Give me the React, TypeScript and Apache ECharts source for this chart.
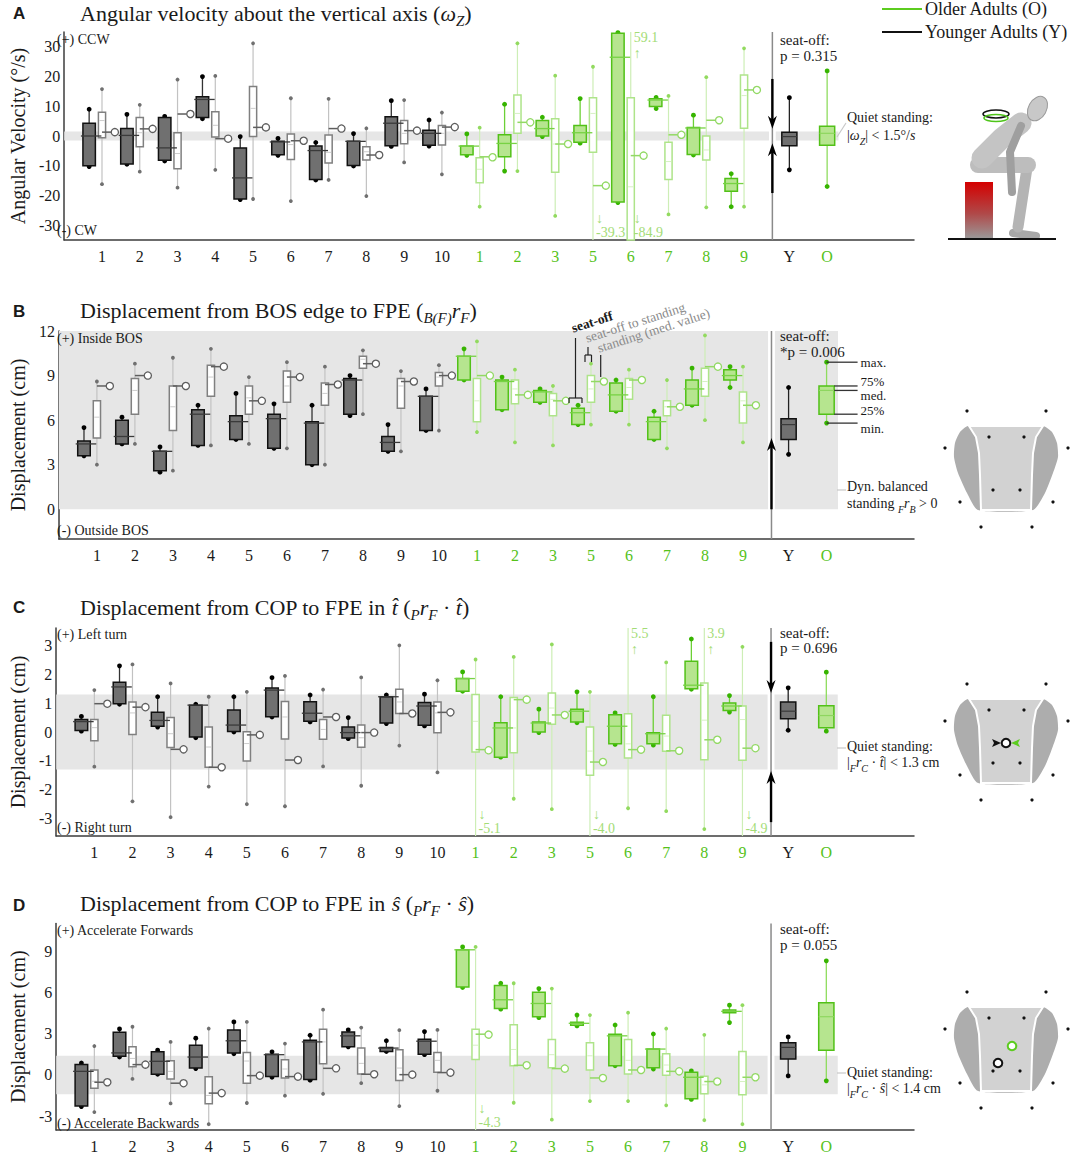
import React, { useEffect, useRef } from 'react';
import * as echarts from 'echarts';

const SERIF = '"Liberation Serif", "DejaVu Serif", serif';
const SANS = '"Liberation Sans", Arial, sans-serif';

// ---------- categories ----------
const youngLabels = ['1', '2', '3', '4', '5', '6', '7', '8', '9', '10'];
const olderLabels = ['1', '2', '3', '5', '6', '7', '8', '9'];
const groupLabels = ['Y', 'O'];

// ---------- A: angular velocity (deg/s)  [min, q1, median, q3, max] ----------
const angSeatOff = [
  [-10.3, -10.0, 0.0, 4.3, 9.0], [-9.5, -9.4, 0.2, 2.5, 7.3], [-8.4, -8.2, -4.0, 6.2, 6.6],
  [5.8, 6.2, 12.3, 13.2, 20.0], [-21.4, -21.2, -14.1, -4.0, -0.2], [-6.5, -6.3, -2.0, -1.8, -0.8],
  [-14.8, -14.6, -4.9, -3.4, -2.2], [-10.1, -9.9, -1.8, -1.8, 0.8], [-3.5, -3.3, 4.3, 6.5, 11.9],
  [-3.4, -3.1, 0.9, 1.9, 5.4],
  [-6.5, -6.3, -3.4, -3.4, 0.7], [-11.8, -7.0, -2.5, 0.4, 10.7], [-0.2, 0.0, 2.5, 5.2, 6.3],
  [-2.4, -2.1, 1.1, 3.5, 12.6], [-22.4, -22.2, 26.5, 34.6, 34.8], [9.7, 9.9, 12.1, 12.5, 13.5],
  [-6.4, -6.2, 2.7, 2.9, 7.0], [-23.8, -18.6, -16.0, -14.3, -12.7],
];
const angTransition = [
  [-16.2, -0.6, 5.2, 8.0, 15.8], [-12.0, -3.6, 1.1, 6.2, 10.5], [-17.4, -11.0, -5.9, 1.1, 19.0],
  [-11.4, -0.3, 3.6, 8.2, 20.2], [-21.2, -0.2, 9.3, 16.7, 31.2], [-21.9, -7.9, -2.9, 0.7, 12.7],
  [-14.8, -9.1, -5.5, 0.3, 12.5], [-20.2, -8.1, -5.3, -3.6, 2.6], [-8.9, -2.6, 0.9, 5.2, 12.1],
  [-12.9, -3.0, 0.9, 3.5, 7.9],
  [-23.8, -15.7, -11.2, -7.3, 2.8], [-11.8, 0.9, 7.6, 13.8, 31.2], [-26.9, -12.2, -2.7, 5.8, 20.3],
  [-39.3, -5.5, 7.6, 12.9, 23.3], [-84.9, -45.0, -17.1, 12.9, 59.1], [-26.4, -14.6, -8.6, -2.1, 13.5],
  [-24.0, -8.1, -4.7, 0.0, 19.8], [-23.8, 2.6, 13.6, 20.5, 29.5],
];
const angStanding = [1.3, 2.4, 7.4, -0.9, 2.9, -1.6, 2.5, -6.4, 1.8, 3.0, -7.0, 4.6, -2.7, -16.7, -6.6, 0.4, 5.3, 15.5];
const angGroups = [[-11.4, -3.3, -0.2, 1.3, 12.9], [-17.0, -3.1, 0.9, 3.3, 21.9]];

// ---------- B: BOS edge to FPE (cm) ----------
const bosSeatOff = [
  [3.6, 3.6, 4.4, 4.6, 5.5], [4.4, 4.4, 4.9, 6.0, 6.2], [2.5, 2.6, 3.9, 3.9, 4.2],
  [4.3, 4.3, 6.4, 6.7, 7.0], [4.7, 4.7, 5.9, 6.3, 7.8], [4.1, 4.1, 6.1, 6.4, 7.1],
  [3.0, 3.0, 5.8, 5.9, 7.0], [6.3, 6.4, 8.7, 8.8, 9.0], [3.9, 3.9, 4.5, 4.9, 5.7],
  [5.3, 5.3, 7.6, 7.6, 8.1],
  [8.7, 8.7, 10.3, 10.3, 10.8], [6.7, 6.7, 8.6, 8.7, 8.9], [7.2, 7.2, 7.9, 8.0, 8.1],
  [5.7, 5.7, 6.5, 6.8, 7.0], [6.6, 6.6, 7.7, 8.5, 8.7], [4.7, 4.7, 5.9, 6.2, 6.6],
  [7.0, 7.0, 8.1, 8.7, 9.5], [8.2, 8.7, 9.0, 9.4, 9.6],
];
const bosTransition = [
  [3.0, 4.8, 6.2, 7.3, 8.6], [4.4, 6.4, 8.0, 8.8, 9.8], [2.6, 5.3, 6.9, 8.3, 10.2],
  [4.3, 7.6, 8.9, 9.7, 10.8], [4.4, 6.4, 7.5, 8.3, 8.9], [4.1, 7.2, 8.3, 9.3, 9.9],
  [3.0, 7.0, 7.8, 8.5, 9.6], [6.4, 9.5, 10.1, 10.3, 10.7], [3.9, 6.8, 8.3, 8.8, 9.3],
  [5.3, 8.3, 8.9, 9.2, 9.7],
  [5.2, 5.9, 7.3, 8.8, 11.3], [4.5, 7.1, 8.1, 8.7, 9.4], [4.3, 6.3, 7.4, 7.8, 8.3],
  [5.7, 7.2, 8.1, 9.0, 9.8], [5.7, 7.4, 8.2, 8.8, 9.4], [4.1, 6.3, 6.9, 7.3, 8.7],
  [6.0, 7.6, 8.6, 9.5, 11.7], [4.5, 5.8, 7.3, 7.9, 9.6],
];
const bosStanding = [8.3, 9.0, 8.3, 9.6, 7.3, 8.9, 8.4, 9.8, 8.6, 9.0, 9.0, 7.7, 7.3, 8.6, 8.7, 6.9, 9.6, 7.0];
const bosGroups = [[3.7, 4.7, 5.7, 6.1, 8.2], [5.8, 6.4, 8.0, 8.3, 9.9]];

// ---------- C: COP to FPE in t (cm) ----------
const copTSeatOff = [
  [0.03, 0.05, 0.36, 0.43, 0.54], [0.96, 0.98, 1.56, 1.72, 2.29], [0.17, 0.2, 0.4, 0.68, 1.22],
  [-0.2, -0.17, 0.93, 0.93, 0.96], [0.0, 0.02, 0.24, 0.76, 1.22], [0.52, 0.53, 1.45, 1.52, 1.88],
  [0.35, 0.37, 0.65, 1.05, 1.28], [-0.23, -0.21, -0.02, 0.17, 0.5], [0.29, 0.31, 1.22, 1.22, 1.28],
  [0.21, 0.23, 0.9, 1.02, 1.31],
  [1.41, 1.41, 1.85, 1.85, 2.08], [-0.87, -0.87, 0.14, 0.32, 1.22], [-0.02, 0.0, 0.31, 0.35, 0.79],
  [0.32, 0.35, 0.72, 0.79, 1.39], [-0.43, -0.41, 0.2, 0.6, 0.66], [-0.43, -0.41, -0.06, -0.03, 1.24],
  [1.48, 1.5, 1.62, 2.45, 3.22], [0.69, 0.74, 0.9, 1.0, 1.26],
];
const copTTransition = [
  [-1.2, -0.3, 0.15, 0.43, 1.45], [-2.4, -0.09, 0.66, 1.04, 2.34], [-2.95, -0.54, -0.06, 0.5, 1.68],
  [-1.89, -1.22, -0.52, 0.17, 1.22], [-2.5, -1.0, -0.4, 0.01, 1.39], [-2.57, -0.24, 0.52, 1.06, 1.94],
  [-1.19, -0.25, 0.09, 0.43, 1.47], [-1.86, -0.53, -0.2, 0.24, 1.89], [-0.47, 0.64, 1.04, 1.48, 3.0],
  [-1.4, -0.03, 0.66, 1.04, 1.79],
  [-5.1, -0.69, 0.37, 1.3, 2.51], [-2.31, -0.72, 0.14, 1.19, 2.6], [-2.67, 0.27, 0.83, 1.35, 3.03],
  [-4.0, -1.5, -0.66, 0.17, 1.39], [-2.64, -0.9, -0.41, 0.63, 5.5], [-2.74, -0.67, -0.14, 0.58, 2.41],
  [-3.36, -0.96, 0.41, 1.7, 3.9], [-4.9, -0.98, 0.43, 0.9, 2.95],
];
const copTStanding = [0.98, 0.86, -0.6, -1.22, -0.1, -0.97, 0.52, -0.02, 0.64, 0.68, -0.61, 1.12, 0.59, -1.04, -0.61, -0.65, -0.27, -0.56];
const copTGroups = [[0.06, 0.46, 0.72, 1.04, 1.53], [0.03, 0.15, 0.57, 0.91, 2.07]];

// ---------- D: COP to FPE in s (cm) ----------
const copSSeatOff = [
  [-2.3, -2.26, 0.26, 0.75, 0.87], [1.3, 1.35, 1.6, 3.1, 3.34], [0.05, 0.05, 0.99, 1.68, 1.8],
  [0.46, 0.5, 1.3, 2.16, 2.67], [1.54, 1.59, 2.48, 3.27, 3.85], [-0.17, -0.12, 1.47, 1.51, 1.68],
  [-0.38, -0.34, 2.4, 2.52, 2.88], [2.04, 2.04, 2.84, 3.12, 3.27], [1.7, 1.7, 1.95, 2.0, 2.48],
  [1.47, 1.51, 2.45, 2.6, 3.15],
  [6.35, 6.39, 9.09, 9.09, 9.3], [4.78, 4.83, 5.46, 6.49, 6.66], [4.16, 4.23, 5.19, 6.0, 6.27],
  [3.56, 3.6, 3.75, 3.82, 4.35], [0.67, 0.67, 2.84, 2.96, 3.63], [0.48, 0.53, 1.88, 1.88, 3.03],
  [-1.78, -1.73, -0.17, 0.19, 0.29], [3.8, 4.52, 4.62, 4.71, 5.07],
];
const copSTransition = [
  [-2.7, -0.96, -0.46, 0.36, 2.1], [-0.29, 0.6, 1.2, 2.04, 3.5], [-2.07, -0.29, 0.26, 1.03, 2.4],
  [-3.58, -2.1, -1.49, -0.14, 3.37], [-2.04, -0.6, 1.01, 1.63, 3.85], [-1.51, -0.22, 0.43, 1.1, 2.28],
  [-1.37, 0.82, 2.4, 3.32, 4.74], [-0.6, 0.07, 0.84, 1.95, 3.44], [-2.26, -0.41, 0.5, 1.83, 3.25],
  [-1.15, 0.19, 1.06, 1.63, 3.27],
  [-4.3, 1.13, 2.16, 3.32, 9.3], [-2.02, 0.67, 1.85, 3.65, 6.66], [-3.25, 0.53, 1.47, 2.57, 6.27],
  [-1.9, 0.36, 1.39, 2.33, 4.35], [-1.9, 0.07, 1.06, 2.57, 4.52], [-2.21, -0.02, 0.72, 1.54, 3.37],
  [-3.29, -1.37, -0.72, -0.1, 2.91], [-3.58, -1.44, -0.48, 1.71, 5.07],
];
const copSStanding = [-0.53, 0.75, -0.6, -1.32, -0.05, -0.12, 0.48, 0.05, 0.02, 0.17, 2.96, 0.7, 0.46, -0.22, 0.36, 0.26, -0.48, -0.17];
const copSGroups = [[-0.07, 1.15, 2.0, 2.33, 2.76], [-0.43, 1.8, 4.23, 5.24, 8.29]];

// ---------- layout / style ----------
const GROUP_POS = [19.2, 20.2];
const SEP = 18.75;
const BAND_END = 20.5;
const YOUNG_C = {
  fill: '#707070', fillStroke: '#111111', fillWhisker: '#333333', fillDot: '#000000', fillMedian: '#3a3a3a',
  openStroke: '#808080', openWhisker: '#c2c2c2', openDot: '#707070', openMedian: '#cccccc', standLine: '#5e5e5e',
};
const OLD_C = {
  fill: '#b6e58f', fillStroke: '#52c118', fillWhisker: '#6cd036', fillDot: '#37b400', fillMedian: '#77d244',
  openStroke: '#aee48a', openWhisker: '#cdeeb6', openDot: '#92da5f', openMedian: '#d6f1c3', standLine: '#92d964',
};
const OFF_COLOR = '#a3dc76';
const GREEN_TXT = '#55c21a';

const panels = [
  { seatOff: angSeatOff, trans: angTransition, stand: angStanding, groups: angGroups,
    yMin: -35, yMax: 35, interval: 5, top: 32, band: [-1.5, 1.5], yName: 'Angular Velocity (°/s)',
    arrows: [[19.2, 2.4], [-19.2, -2.4]], annotate: false,
    fmt: (v: number) => (Math.abs(v % 10) < 1e-9 ? String(Math.round(v)) : '') },
  { seatOff: bosSeatOff, trans: bosTransition, stand: bosStanding, groups: bosGroups,
    yMin: -2, yMax: 12, interval: 1, top: 331, band: [0, 12], yName: 'Displacement (cm)',
    arrows: [[0, 4.8]], annotate: true,
    fmt: (v: number) => (v >= 0 && Math.abs(v % 3) < 1e-9 ? String(Math.round(v)) : '') },
  { seatOff: copTSeatOff, trans: copTTransition, stand: copTStanding, groups: copTGroups,
    yMin: -3.6, yMax: 3.6, interval: 0.2, top: 628, band: [-1.3, 1.3], yName: 'Displacement (cm)',
    arrows: [[3.12, 1.35], [-3.12, -1.35]], annotate: false,
    fmt: (v: number) => (Math.abs(v - Math.round(v)) < 1e-6 ? String(Math.round(v) + 0) : '') },
  { seatOff: copSSeatOff, trans: copSTransition, stand: copSStanding, groups: copSGroups,
    yMin: -4, yMax: 11, interval: 1, top: 923.5, band: [-1.4, 1.4], yName: 'Displacement (cm)',
    arrows: [], annotate: false,
    fmt: (v: number) => (Math.abs(v % 3) < 1e-9 ? String(Math.round(v) + 0) : '') },
];

function xLabel(v: number) {
  const k = Math.round(v * 10);
  if (k % 10 === 0 && k >= 10 && k <= 180) {
    const i = k / 10 - 1;
    return i < 10 ? `{y|${youngLabels[i]}}` : `{o|${olderLabels[i - 10]}}`;
  }
  if (k === Math.round(GROUP_POS[0] * 10)) return `{y|${groupLabels[0]}}`;
  if (k === Math.round(GROUP_POS[1] * 10)) return `{o|${groupLabels[1]}}`;
  return '';
}

const ln = (a: number[], b: number[], stroke: string, lw: number) =>
  ({ type: 'line', shape: { x1: a[0], y1: a[1], x2: b[0], y2: b[1] }, style: { stroke, lineWidth: lw } });
const dt = (p: number[], r: number, fill: string) => ({ type: 'circle', shape: { cx: p[0], cy: p[1], r }, style: { fill } });
const bx = (cx: number, yTop: number, yBot: number, w: number, fill: string, stroke: string, lw: number) =>
  ({ type: 'rect', shape: { x: cx - w / 2, y: yTop, width: w, height: Math.max(0.8, yBot - yTop) }, style: { fill, stroke, lineWidth: lw } });

function bandRenderer(p: any) {
  return (params: any, api: any) => {
    const ch: any[] = [];
    const rect = (x0: number, x1: number) => {
      const a = api.coord([x0, p.band[1]]);
      const b = api.coord([x1, p.band[0]]);
      return { type: 'rect', shape: { x: a[0], y: a[1], width: b[0] - a[0], height: b[1] - a[1] }, style: { fill: '#e6e6e6' } };
    };
    ch.push(rect(0, SEP - 0.09), rect(SEP + 0.09, BAND_END));
    ch.push(ln(api.coord([SEP, p.yMin]), api.coord([SEP, p.yMax]), '#8a8a8a', 1.5));
    p.arrows.forEach(([from, to]: number[]) => {
      const a = api.coord([SEP, from]);
      const b = api.coord([SEP, to]);
      const d = b[1] > a[1] ? 1 : -1;
      ch.push(ln(a, [b[0], b[1] - d * 7], '#000', 2.4));
      ch.push({ type: 'polygon', shape: { points: [[b[0], b[1]], [b[0] - 4.5, b[1] - d * 13], [b[0], b[1] - d * 9], [b[0] + 4.5, b[1] - d * 13]] }, style: { fill: '#000' } });
    });
    return { type: 'group', children: ch };
  };
}

function participantRenderer(yMin: number, yMax: number) {
  return (params: any, api: any) => {
    const x = api.value(0);
    const so = [1, 2, 3, 4, 5].map((k) => api.value(k));
    const tr = [6, 7, 8, 9, 10].map((k) => api.value(k));
    const st = api.value(11);
    const c = api.value(12) === 1 ? OLD_C : YOUNG_C;
    const cl = (v: number) => Math.min(yMax, Math.max(yMin, v));
    const P = (xx: number, v: number) => api.coord([xx, cl(v)]);
    const u = api.size([1, 0])[0];
    const xf = x - 0.34, xc = x + 0.34;
    const wf = 0.33 * u, wo = 0.19 * u;
    const ch: any[] = [];
    const t = tr.map((v) => P(x, v));
    ch.push(ln(t[0], t[4], c.openWhisker, 1.2));
    if (tr[0] >= yMin) ch.push(dt(t[0], 1.9, c.openDot));
    if (tr[4] <= yMax) ch.push(dt(t[4], 1.9, c.openDot));
    ch.push(bx(t[1][0], t[3][1], t[1][1], wo, '#ffffff', c.openStroke, 1.5));
    if (tr[2] > yMin && tr[2] < yMax) ch.push(ln([t[2][0] - wo / 2 + 1, t[2][1]], [t[2][0] + wo / 2 - 1, t[2][1]], c.openMedian, 1));
    const s0 = P(x, st), s1 = P(xc, st);
    ch.push(ln(s0, [s1[0] - 3.6, s1[1]], c.standLine, 1.5));
    ch.push({ type: 'circle', shape: { cx: s1[0], cy: s1[1], r: 3.6 }, style: { fill: '#ffffff', stroke: c.standLine, lineWidth: 1.3 } });
    const f = so.map((v) => P(xf, v));
    ch.push(ln(f[3], f[4], c.fillWhisker, 1.3));
    ch.push(ln(f[1], f[0], c.fillWhisker, 1.3));
    if (so[4] <= yMax) ch.push(dt(f[4], 2.4, c.fillDot));
    if (so[0] >= yMin) ch.push(dt(f[0], 2.4, c.fillDot));
    ch.push(bx(f[1][0], f[3][1], f[1][1], wf, c.fill, c.fillStroke, 1.5));
    ch.push(ln([f[2][0] - wf / 2 - 2, f[2][1]], [f[2][0] + wf / 2 + 6, f[2][1]], c.fillMedian, 1.3));
    const tx = (text: string, px: number, py: number) =>
      ({ type: 'text', style: { text, x: px, y: py, fill: OFF_COLOR, fontSize: 14, fontFamily: SERIF, align: 'left', verticalAlign: 'middle' } });
    if (tr[4] > yMax) {
      const top = api.coord([x, yMax]);
      ch.push(tx(tr[4].toFixed(1), top[0] + 3, top[1] + 5), tx('↑', top[0] + 3, top[1] + 21));
    }
    if (tr[0] < yMin) {
      const bot = api.coord([x, yMin]);
      ch.push(tx('↓', bot[0] + 3, bot[1] - 22), tx(tr[0].toFixed(1), bot[0] + 3, bot[1] - 8));
    }
    return { type: 'group', children: ch };
  };
}

function groupRenderer(annotate: boolean) {
  return (params: any, api: any) => {
    const x = api.value(0);
    const v = [1, 2, 3, 4, 5].map((k) => api.value(k));
    const old = api.value(6) === 1;
    const u = api.size([1, 0])[0];
    const w = 0.4 * u;
    const p = v.map((val) => api.coord([x, val]));
    const ch: any[] = [];
    ch.push(ln(p[0], p[4], old ? '#8fdc5e' : '#222222', 1.3));
    ch.push(dt(p[0], 2.4, old ? '#37b400' : '#000'), dt(p[4], 2.4, old ? '#37b400' : '#000'));
    ch.push(bx(p[1][0], p[3][1], p[1][1], w, old ? OLD_C.fill : YOUNG_C.fill, old ? OLD_C.fillStroke : '#111', 1.5));
    ch.push(ln([p[2][0] - w / 2, p[2][1]], [p[2][0] + w / 2, p[2][1]], old ? '#8ed65f' : '#3a3a3a', 1.2));
    if (annotate && old) {
      const right = p[0][0] + w / 2;
      const end = p[0][0] + 31;
      const lab = (text: string, yy: number, va: string) =>
        ({ type: 'text', style: { text, x: end + 3, y: yy, fill: '#1a1a1a', fontSize: 13, fontFamily: SERIF, align: 'left', verticalAlign: va } });
      ch.push(ln([p[4][0], p[4][1]], [end, p[4][1]], '#333', 1.3), lab('max.', p[4][1], 'middle'));
      ch.push(ln([right, p[3][1]], [end, p[3][1]], '#333', 1.3), lab('75%', p[3][1] + 2, 'bottom'));
      ch.push(ln([right, p[2][1]], [end, p[2][1]], '#333', 1.3), lab('med.', p[2][1] - 1, 'top'));
      ch.push(ln([right, p[1][1]], [end, p[1][1]], '#333', 1.3), lab('25%', p[1][1] + 3, 'bottom'));
      ch.push(ln([p[0][0], p[0][1]], [end, p[0][1]], '#333', 1.3), lab('min.', p[0][1] - 1, 'top'));
    }
    return { type: 'group', children: ch };
  };
}

// ---------- graphic helpers ----------
const rich = (size: number) => ({
  t: { fontSize: size, fontFamily: SERIF, fill: '#1a1a1a', lineHeight: size + 8 },
  i: { fontSize: size, fontFamily: SERIF, fontStyle: 'italic', fill: '#1a1a1a', lineHeight: size + 8 },
  s: { fontSize: Math.round(size * 0.68), fontFamily: SERIF, fontStyle: 'italic', fill: '#1a1a1a', verticalAlign: 'bottom', lineHeight: Math.round(size * 0.72) },
});
const T = (x: number, y: number, text: string, o: any = {}) => ({
  type: 'text', x, y, rotation: o.rot || 0, z: 50,
  style: {
    text, fontSize: o.size || 14, fontFamily: o.family || SERIF, fill: o.fill || '#1a1a1a',
    fontWeight: o.weight || 'normal', align: o.align || 'left', verticalAlign: o.va || 'middle',
    rich: o.rich,
  },
});
const GL = (x1: number, y1: number, x2: number, y2: number, stroke: string, lw: number) =>
  ({ type: 'line', z: 50, shape: { x1, y1, x2, y2 }, style: { stroke, lineWidth: lw } });
const GC = (cx: number, cy: number, r: number, fill: string, stroke?: string, lw?: number) =>
  ({ type: 'circle', z: 50, shape: { cx, cy, r }, style: { fill, stroke, lineWidth: lw || 0 } });

function footDiagram(dy: number) {
  const sh = (pts: number[][]) => pts.map(([x, y]) => [x, y + dy]);
  const els: any[] = [];
  els.push({ type: 'polygon', z: 50, shape: { points: sh([[968, 426], [960, 432], [955, 443], [954, 457], [958, 473], [967, 493], [978, 510], [1033, 510], [1045, 493], [1053, 473], [1058, 457], [1057, 443], [1052, 432], [1043, 426]]), smooth: 0.2 }, style: { fill: '#adadad' } });
  els.push({ type: 'polygon', z: 51, shape: { points: sh([[969, 426], [976, 437], [979, 453], [980, 475], [981, 510], [1031, 510], [1032, 475], [1033, 453], [1036, 437], [1043, 426]]) }, style: { fill: '#d2d2d2', stroke: '#ffffff', lineWidth: 2 } });
  const dots = [[967, 411], [1046, 411], [945, 448], [1068, 448], [960, 502], [1053, 502], [981, 527], [1032, 527], [989, 437], [1024, 437], [993, 490], [1020, 490]];
  sh(dots).forEach(([x, y]) => els.push({ ...GC(x, y, 1.6, '#111'), z: 52 }));
  return els;
}

function mannequin() {
  const limb = (pts: number[][], lw: number, col: string) =>
    ({ type: 'polyline', z: 50, shape: { points: pts }, style: { stroke: col, lineWidth: lw, lineCap: 'round', lineJoin: 'round', fill: null } });
  return [
    { type: 'rect', z: 50, shape: { x: 965, y: 182, width: 28, height: 57 }, style: { fill: { type: 'linear', x: 0, y: 0, x2: 0, y2: 1, colorStops: [{ offset: 0, color: '#d40000' }, { offset: 0.55, color: '#b04848' }, { offset: 1, color: '#9a9a9a' }] } } },
    limb([[1013, 233], [1036, 236]], 8, '#a8a8a8'),
    limb([[1027, 168], [1018, 227]], 11, '#b4b4b4'),
    limb([[978, 165], [1028, 165]], 16, '#bdbdbd'),
    limb([[982, 158], [1002, 138], [1021, 123]], 21, '#c4c4c4'),
    limb([[1021, 126], [1010, 152], [1012, 192]], 8, '#9f9f9f'),
    { type: 'ellipse', z: 51, shape: { cx: 1037, cy: 109, rx: 9, ry: 13 }, rotation: -0.5, originX: 1037, originY: 109, style: { fill: '#c8c8c8', stroke: '#9a9a9a', lineWidth: 1 } },
    { type: 'ellipse', z: 52, shape: { cx: 996, cy: 114, rx: 13, ry: 4 }, style: { fill: null, stroke: '#111', lineWidth: 1.5 } },
    { type: 'ellipse', z: 52, shape: { cx: 996, cy: 118, rx: 12, ry: 3.5 }, style: { fill: null, stroke: '#4fc51a', lineWidth: 1.5 } },
    GL(948, 239, 1056, 239, '#111', 2),
  ];
}

function buildGraphic() {
  const R22 = rich(22);
  const R14 = rich(14);
  const els: any[] = [];
  [['A', 13], ['B', 311], ['C', 607], ['D', 905]].forEach(([l, y]) => els.push(T(13, y as number, l as string, { family: SANS, weight: 'bold', size: 17 })));
  els.push(T(80, 13, '{t|Angular velocity about the vertical axis (}{i|ω}{s|Z}{t|)}', { rich: R22 }));
  els.push(T(80, 310, '{t|Displacement from BOS edge to FPE (}{s|B(F)}{i|r}{s|F}{t|)}', { rich: R22 }));
  els.push(T(80, 607, '{t|Displacement from COP to FPE in }{i|t\u0302}{t| (}{s|P}{i|r}{s|F}{t| · }{i|t\u0302}{t|)}', { rich: R22 }));
  els.push(T(80, 903, '{t|Displacement from COP to FPE in }{i|ŝ}{t| (}{s|P}{i|r}{s|F}{t| · }{i|ŝ}{t|)}', { rich: R22 }));
  // legend
  els.push(GL(882, 9, 922, 9, '#5ccc1f', 2), T(925, 9, 'Older Adults (O)', { size: 18 }));
  els.push(GL(882, 32, 922, 32, '#111', 2), T(925, 32, 'Younger Adults (Y)', { size: 18 }));
  // direction notes
  els.push(T(57, 39, '(+) CCW'), T(57, 230, '(-) CW'));
  els.push(T(57, 338, '(+) Inside BOS'), T(57, 530, '(-) Outside BOS'));
  els.push(T(57, 634, '(+) Left turn'), T(57, 827, '(-) Right turn'));
  els.push(T(57, 930, '(+) Accelerate Forwards'), T(57, 1123, '(-) Accelerate Backwards'));
  // seat-off p values
  els.push(T(780, 40, 'seat-off:', { size: 15 }), T(780, 56, 'p = 0.315', { size: 15 }));
  els.push(T(780, 336, 'seat-off:', { size: 15 }), T(780, 352, '*p = 0.006', { size: 15 }));
  els.push(T(780, 633, 'seat-off:', { size: 15 }), T(780, 648, 'p = 0.696', { size: 15 }));
  els.push(T(780, 929, 'seat-off:', { size: 15 }), T(780, 945, 'p = 0.055', { size: 15 }));
  // threshold notes
  els.push(GL(837, 137, 846, 123, '#c8c8c8', 1.2));
  els.push(T(847, 117, 'Quiet standing:'), T(847, 135, '{t||}{i|ω}{s|Z}{t|| < 1.5°/}{i|s}', { rich: R14 }));
  els.push(GL(837, 490, 846, 490, '#c8c8c8', 1.2));
  els.push(T(847, 486, 'Dyn. balanced'), T(847, 503, '{t|standing }{s|F}{i|r}{s|B}{t| > 0}', { rich: R14 }));
  els.push(GL(837, 748, 846, 748, '#c8c8c8', 1.2));
  els.push(T(847, 746, 'Quiet standing:'), T(847, 762, '{t||}{s|F}{i|r}{s|C}{t| · }{i|t\u0302}{t|| < 1.3 cm}', { rich: R14 }));
  els.push(GL(837, 1073, 846, 1073, '#c8c8c8', 1.2));
  els.push(T(847, 1072, 'Quiet standing:'), T(847, 1088, '{t||}{s|F}{i|r}{s|C}{t| · }{i|ŝ}{t|| < 1.4 cm}', { rich: R14 }));
  // seat-off / transition / standing key in panel B
  const rot = 0.31;
  els.push(T(574, 335, 'seat-off', { size: 13.5, weight: 'bold', va: 'bottom', rot }));
  els.push(T(588, 345, 'seat-off to standing', { size: 13.5, fill: '#8a8a8a', va: 'bottom', rot }));
  els.push(T(600, 355, 'standing (med. value)', { size: 13.5, fill: '#8a8a8a', va: 'bottom', rot }));
  els.push(GL(575.5, 338, 575.5, 398, '#222', 1.2), GL(569, 398, 582, 398, '#222', 1.2), GL(569, 398, 569, 403, '#222', 1.2), GL(582, 398, 582, 403, '#222', 1.2));
  els.push(GL(588, 347, 588, 355, '#222', 1.2), GL(585, 355, 591.5, 355, '#222', 1.2), GL(585, 355, 585, 362, '#222', 1.2), GL(591.5, 355, 591.5, 362, '#222', 1.2));
  els.push(GL(600.7, 355, 600.7, 377, '#222', 1.2));
  // illustrations
  els.push(...mannequin());
  els.push(...footDiagram(0));
  els.push(GL(1000, 487, 1000, 510, '#111', 2), GC(1000, 483, 4.3, '#fff', '#111', 2));
  els.push(GL(1013, 478, 1013, 510, '#5ccc1f', 2), GC(1013, 473, 4.3, '#fff', '#5ccc1f', 2));
  els.push(...footDiagram(273));
  els.push(GL(982, 743, 995, 743, '#111', 2), { type: 'polygon', z: 53, shape: { points: [[1001, 743], [992, 739], [994, 743], [992, 747]] }, style: { fill: '#111' } });
  els.push(GL(1030, 743, 1017, 743, '#5ccc1f', 2), { type: 'polygon', z: 53, shape: { points: [[1011, 743], [1020, 739], [1018, 743], [1020, 747]] }, style: { fill: '#5ccc1f' } });
  els.push({ ...GC(1006, 743, 4.3, '#fff', '#111', 2), z: 54 });
  els.push(...footDiagram(581));
  els.push(GL(1012, 1050, 1012, 1065, '#5ccc1f', 2), { ...GC(1012, 1046, 4.3, '#fff', '#5ccc1f', 2), z: 54 });
  els.push(GL(998, 1067, 998, 1072, '#111', 2), { ...GC(998, 1063, 4.3, '#fff', '#111', 2), z: 54 });
  return els;
}

function buildOption() {
  const grid = panels.map((p) => ({ left: 52, width: 862, top: p.top, height: 208 }));
  const xAxis = panels.map((p, i) => ({
    gridIndex: i, type: 'value', min: 0, max: 22.5, interval: 0.2,
    axisLine: { onZero: false, lineStyle: { color: '#3c3c3c', width: 1.5 } },
    axisTick: { show: false }, splitLine: { show: false },
    axisLabel: {
      margin: 8, formatter: xLabel, showMinLabel: true, showMaxLabel: true,
      rich: {
        y: { color: '#1a1a1a', fontSize: 16, fontFamily: SERIF },
        o: { color: GREEN_TXT, fontSize: 16, fontFamily: SERIF },
      },
    },
  }));
  const yAxis = panels.map((p, i) => ({
    gridIndex: i, type: 'value', min: p.yMin, max: p.yMax, interval: p.interval,
    axisLine: { show: true, onZero: false, lineStyle: { color: '#3c3c3c', width: 1.5 } },
    axisTick: { show: false }, splitLine: { show: false },
    axisLabel: { formatter: p.fmt, fontFamily: SERIF, fontSize: 16, color: '#1a1a1a', margin: 4 },
    name: p.yName, nameLocation: 'middle', nameGap: 28,
    nameTextStyle: { fontFamily: SERIF, fontSize: 20, color: '#1a1a1a' },
  }));
  const series: any[] = [];
  panels.forEach((p, i) => {
    series.push({
      type: 'custom', xAxisIndex: i, yAxisIndex: i, z: 1, silent: true,
      data: [[0, 0]], renderItem: bandRenderer(p),
    });
    series.push({
      type: 'custom', xAxisIndex: i, yAxisIndex: i, z: 3, silent: true,
      data: p.seatOff.map((s, j) => [j + 1, ...s, ...p.trans[j], p.stand[j], j >= youngLabels.length ? 1 : 0]),
      renderItem: participantRenderer(p.yMin, p.yMax),
    });
    series.push({
      type: 'custom', xAxisIndex: i, yAxisIndex: i, z: 3, silent: true,
      data: p.groups.map((g, j) => [GROUP_POS[j], ...g, j]),
      renderItem: groupRenderer(p.annotate),
    });
  });
  return {
    animation: false, backgroundColor: '#ffffff',
    grid, xAxis, yAxis, series,
    graphic: { elements: buildGraphic() },
  };
}

export default function App() {
  const ref = useRef<HTMLDivElement>(null);
  useEffect(() => {
    if (!ref.current) return;
    const chart = echarts.init(ref.current, null, { renderer: 'svg' });
    chart.setOption(buildOption() as any);
    return () => chart.dispose();
  }, []);
  return <div ref={ref} style={{ position: 'absolute', left: 0, top: 0, width: 1074, height: 1154, background: '#fff' }} />;
}
